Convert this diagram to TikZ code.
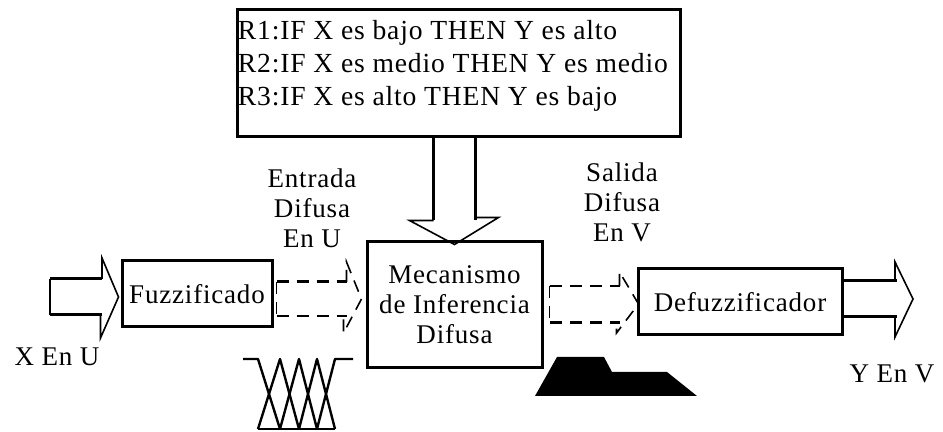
\documentclass[tikz,border=0pt]{standalone}
\usepackage{fontspec}
\setmainfont{Liberation Serif}[LetterSpace=3.0]
\usetikzlibrary{calc}
\usetikzlibrary{positioning}

\tikzset{
  box/.style={draw, line width=1.5pt, inner sep=0pt},
  txt/.style={font=\fontsize{13.5}{15}\selectfont, align=center, inner sep=0pt},
  blockshaft/.style={line width=1.5pt},
  blockhead/.style={line width=0.8pt},
  dashshaft/.style={dash pattern=on 6pt off 4pt, line width=0.8pt},
  mfline/.style={line width=1.2pt, line join=round},
}

\begin{document}
\begin{tikzpicture}[x=0.5pt, y=-0.5pt]
  \useasboundingbox (0,0) rectangle (943,432);

  % rule base
  \node [box, minimum width=221.5pt, minimum height=63.5pt] (rules) at (458.5,73.5) {};
  \node [txt, align=left, anchor=west, font=\fontsize{13.8}{16.5}\selectfont] (rulestext) at ($(rules.west)+(2,-8)$) {R1:IF X es bajo THEN Y es alto\\R2:IF X es medio THEN Y es medio\\R3:IF X es alto THEN Y es bajo};

  % blocks
  \node [box, txt, minimum width=75pt, minimum height=33pt] (fuzz) at (197,294) {Fuzzificado};
  \node [box, txt, minimum width=87.5pt, minimum height=63pt] (mech) at (454.5,305) {Mecanismo\\de Inferencia\\Difusa};
  \node [box, txt, minimum width=102pt, minimum height=33pt] (defuzz) at (740,302) {Defuzzificador};

  % labels
  \node [txt] (xlab) at (57,357) {X En U};
  \node [txt] (ylab) at (892,374) {Y En V};
  \node [txt] (inlab) at (312,208) {Entrada\\Difusa\\En U};
  \node [txt] (outlab) at (622,202) {Salida\\Difusa\\En V};

  % rules -> inference
  \coordinate (rtail) at (rules.south -| mech.north);
  \draw [blockshaft] (rtail) ++(-21,0) -- ++(0,82) (rtail) ++(21,0) -- ++(0,82);
  \draw [blockhead] (rtail) ++(-21,82) -- ++(-24,0) -- ($(mech.north)+(0,4)$) -- ++(44,-27) -- ++(-23,0);

  % input arrow
  \coordinate (xin) at (50,297);
  \draw [blockshaft] (xin) ++(0,-18) -- ++(52,0) (xin) ++(0,18) -- ++(52,0);
  \draw [blockhead] (xin) ++(0,-18) -- ++(0,36);
  \draw [blockhead] (xin) ++(52,-18) -- ++(0,-21) -- ($(fuzz.west)+(-2,3)$) -- ++(-18,41) -- ++(0,-23);

  % output arrow
  \coordinate (yout) at (913,299);
  \draw [blockshaft] (defuzz.east |- yout) ++(0,-18) -- ++(53,0) (defuzz.east |- yout) ++(0,18) -- ++(53,0);
  \draw [blockhead] (yout) ++(-18,-18) -- ++(0,-19) -- (yout) -- ++(-18,38) -- ++(0,-20);

  % fuzzy input -> inference
  \coordinate (fin) at ($(fuzz.east)+(3,5)$);
  \coordinate (fout) at ($(mech.west)+(-4,-6)$);
  \draw [dashshaft, line width=1.5pt] (fin) ++(0,-17) -- ++(70,0);
  \draw [dashshaft] (fin) ++(0,17) -- ++(70,0) (fin) ++(0,-17) -- ++(0,34);
  \draw [dashshaft] (fin) ++(70,-17) -- ++(0,-20) -- (fout) -- ++(-18,34) -- ++(0,-17);

  % inference -> fuzzy output
  \coordinate (min) at ($(mech.east)+(6,-1)$);
  \coordinate (mout) at ($(defuzz.west)+(2,2)$);
  \draw [dashshaft] (min) ++(0,-18) -- ++(70,0) (min) ++(0,-18) -- ++(0,37);
  \draw [dashshaft, line width=1.5pt] (min) ++(0,19) -- ++(70,0);
  \draw [dashshaft] (min) ++(70,-18) -- ++(0,-14) -- (mout) -- ++(-22,29) -- ++(0,-10);

  % membership functions
  \draw [mfline] (243,359) -- (258,359) -- (280,429);
  \foreach \a/\b/\c in {258/280/299, 280/299/317, 299/317/335}
    \draw [mfline] (\a,429) -- (\b,359) -- (\c,429);
  \draw [mfline] (317,429) -- (335,359) -- (353,359);
  \draw [mfline] (258,429) -- (335,429);

  % output set
  \fill (535,396) -- (557,357) -- (604,357) -- (612,372) -- (667,372) -- (697,396) -- cycle;
\end{tikzpicture}
\end{document}
